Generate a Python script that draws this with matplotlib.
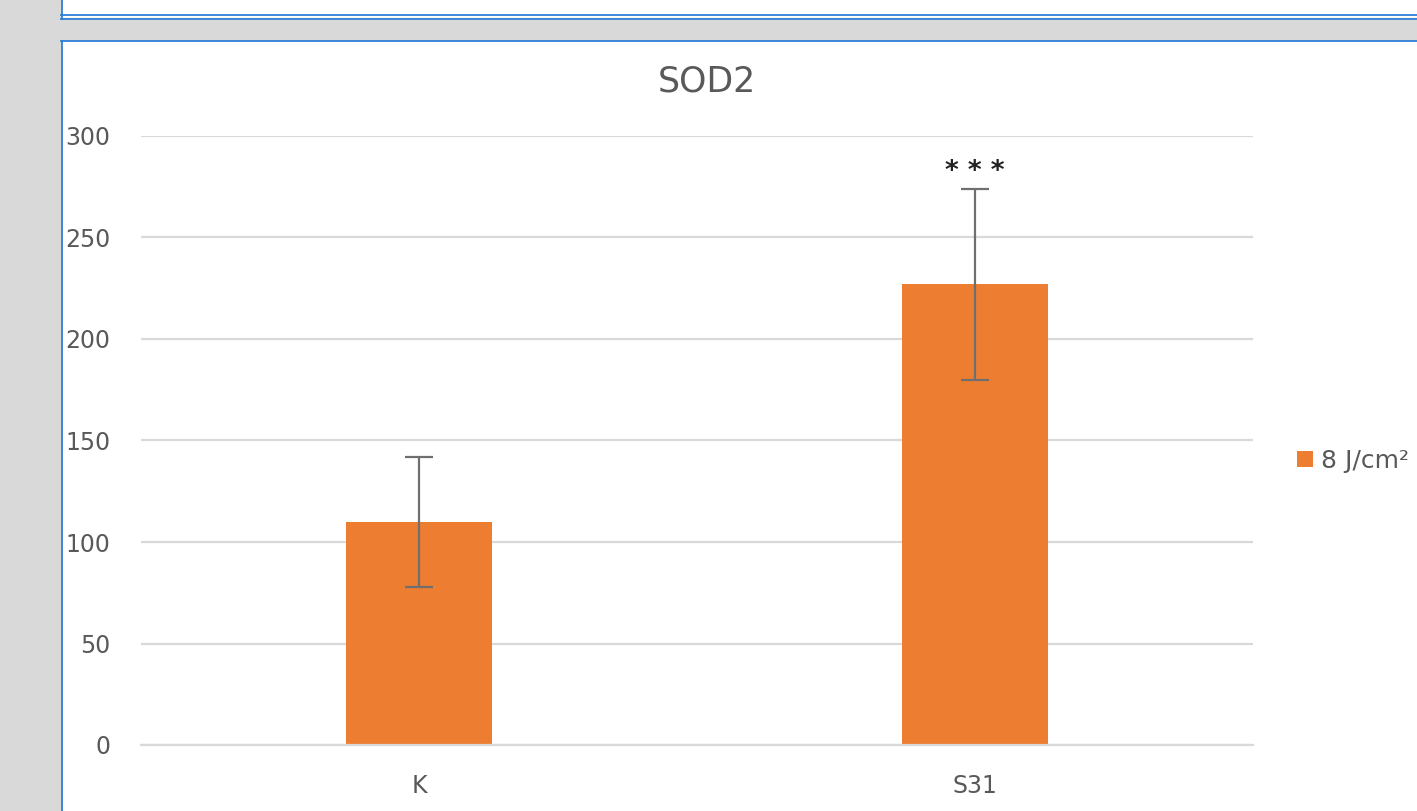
import numpy as np
import matplotlib.pyplot as plt
from matplotlib.patches import Rectangle

### data
categories = ['K', 'S31']
values = [110, 227]
errors = [32, 47]
series_name = '8 J/cm²'
stars = ['', '* * *']
yticks = [0, 50, 100, 150, 200, 250, 300]

W, H = 1417, 811
BAR = '#ed7d31'
TXT = '#595959'
GRID = '#d9d9d9'
BLUE = '#2f7fd4'
PANEL = '#d9d9d9'

plt.rcParams['font.family'] = ['DejaVu Sans']

fig = plt.figure(figsize=(W / 100, H / 100), dpi=100)

def fx(px):
    return px / W

def fy(py):
    return 1 - py / H

ax = fig.add_axes([fx(141), fy(745), fx(1253) - fx(141), fy(136) - fy(745)])
x = np.arange(len(categories))
ax.bar(x, values, width=0.263, color=BAR, zorder=2, label=series_name)
ax.errorbar(x, values, yerr=errors, fmt='none', ecolor='#6f6f6f',
            elinewidth=1.6, capsize=10, capthick=1.6, zorder=3)
for xi, v, e, s in zip(x, values, errors, stars):
    if s:
        ax.annotate(s, (xi, v + e), xytext=(0, 3), textcoords='offset points',
                    ha='center', va='bottom', fontsize=19, fontweight='bold',
                    color='#222222')

ax.set_xlim(-0.5, len(categories) - 0.5)
ax.set_ylim(0, 300)
ax.set_yticks(yticks)
ax.set_xticks(x)
ax.set_xticklabels(categories)
ax.yaxis.grid(True, color=GRID, linewidth=1.6, zorder=0)
ax.set_axisbelow(True)
for sp in ['top', 'right', 'left']:
    ax.spines[sp].set_visible(False)
ax.spines['bottom'].set_color(GRID)
ax.spines['bottom'].set_linewidth(1.6)
ax.tick_params(axis='both', length=0, labelsize=17, labelcolor=TXT)
ax.tick_params(axis='y', pad=22)
ax.tick_params(axis='x', pad=21)

fig.text(fx(707), fy(81), 'SOD2', ha='center', va='center', fontsize=25, color=TXT)

leg = ax.legend(loc='center left', bbox_to_anchor=(fx(1297), fy(461)),
                bbox_transform=fig.transFigure, frameon=False, fontsize=18,
                handlelength=0.62, handleheight=0.62, handletextpad=0.35,
                borderaxespad=0, borderpad=0)
for t in leg.get_texts():
    t.set_color(TXT)

# screenshot surroundings: gray margin, band and blue frame lines
fig.patches.append(Rectangle((0, 0), fx(61), 1, transform=fig.transFigure,
                             color=PANEL, zorder=10))
fig.patches.append(Rectangle((fx(61), fy(40)), 1, fy(18) - fy(40),
                             transform=fig.transFigure, color=PANEL, zorder=10))
for yy in [15, 18.5, 40.5]:
    fig.add_artist(plt.Line2D([fx(61), 1], [fy(yy), fy(yy)], color=BLUE,
                              lw=1.3, zorder=11))
fig.add_artist(plt.Line2D([fx(61.5), fx(61.5)], [fy(18.5), 1], color=BLUE, lw=1.3, zorder=11))
fig.add_artist(plt.Line2D([fx(61.5), fx(61.5)], [0, fy(40.5)], color=BLUE, lw=1.3, zorder=11))

fig.savefig('out.png', dpi=100)
